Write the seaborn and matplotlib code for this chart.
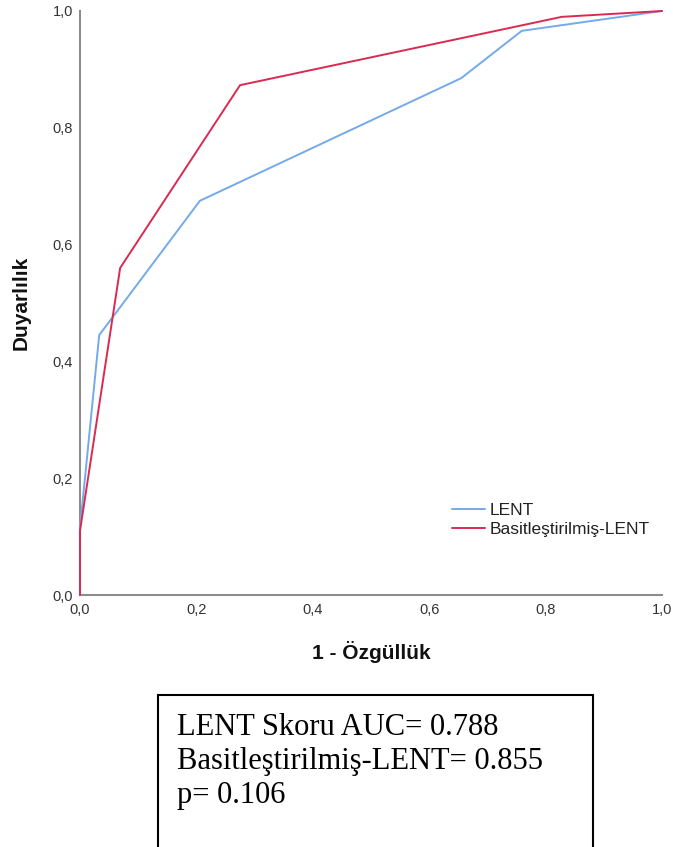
import matplotlib
matplotlib.use("Agg")
import matplotlib.pyplot as plt
from matplotlib.patches import Rectangle
import seaborn as sns
import pandas as pd

# ROC curve coordinates (1 - specificity, sensitivity)
lent_fpr = [0.0, 0.0, 0.033, 0.206, 0.655, 0.759, 1.0]
lent_tpr = [0.0, 0.115, 0.445, 0.675, 0.885, 0.966, 1.0]
simple_fpr = [0.0, 0.0, 0.069, 0.275, 0.828, 1.0]
simple_tpr = [0.0, 0.11, 0.560, 0.873, 0.990, 1.0]

series_names = ["LENT", "Basitleştirilmiş-LENT"]
series_colors = ["#74aaea", "#d92a52"]
tick_values = [0.0, 0.2, 0.4, 0.6, 0.8, 1.0]
tick_labels = ["0,0", "0,2", "0,4", "0,6", "0,8", "1,0"]
summary_lines = ["LENT Skoru AUC= 0.788", "Basitleştirilmiş-LENT= 0.855", "p= 0.106"]

df = pd.concat([
    pd.DataFrame({"fpr": lent_fpr, "tpr": lent_tpr, "model": series_names[0]}),
    pd.DataFrame({"fpr": simple_fpr, "tpr": simple_tpr, "model": series_names[1]}),
], ignore_index=True)

sns.set_style("white")
plt.rcParams["font.family"] = ["Liberation Sans", "DejaVu Sans"]

fig = plt.figure(figsize=(6.73, 8.47), dpi=100)
ax = fig.add_axes([80 / 673, 1 - 595 / 847, 582 / 673, 584 / 847])

sns.lineplot(data=df, x="fpr", y="tpr", hue="model", hue_order=series_names,
             palette=series_colors, sort=False, estimator=None, linewidth=1.4,
             ax=ax)
for line in ax.get_lines():
    line.set_clip_on(False)
    line.set_zorder(3)

ax.set_xlim(0, 1)
ax.set_ylim(0, 1)
ax.set_xticks(tick_values)
ax.set_xticklabels(tick_labels)
ax.set_yticks(tick_values)
ax.set_yticklabels(tick_labels)
ax.tick_params(axis="both", length=0, labelsize=10.5, colors="#333333")
ax.tick_params(axis="x", pad=6)
ax.tick_params(axis="y", pad=5)

for side in ["top", "right"]:
    ax.spines[side].set_visible(False)
for side in ["left", "bottom"]:
    ax.spines[side].set_color("#8c8c8c")
    ax.spines[side].set_linewidth(1.5)

ax.set_xlabel("1 - Özgüllük", fontsize=15, fontweight="bold", color="#111111")
ax.set_ylabel("Duyarlılık", fontsize=15, fontweight="bold", color="#111111")
ax.xaxis.set_label_coords(0.5, -0.078)
ax.yaxis.set_label_coords(-0.084, 0.5)

leg = ax.legend(loc="upper left", bbox_to_anchor=(0.639, 0.157), frameon=False,
                fontsize=12.5, handlelength=1.9, handletextpad=0.3,
                labelspacing=0.22, borderpad=0, borderaxespad=0, title=None)
for line in leg.get_lines():
    line.set_linewidth(1.4)
for t in leg.get_texts():
    t.set_color("#222222")

# Summary box below the chart
box = Rectangle((158 / 673, -0.01), (593 - 158) / 673, 1 - 695 / 847 + 0.01,
                transform=fig.transFigure, fill=False, edgecolor="black",
                linewidth=1.5)
fig.patches.append(box)
for i, txt in enumerate(summary_lines):
    fig.text(177 / 673, 1 - (735 + 34 * i) / 847, txt,
             family=["Liberation Serif", "DejaVu Serif"], fontsize=22,
             color="black", ha="left", va="baseline")

fig.savefig("out.png", dpi=100)
